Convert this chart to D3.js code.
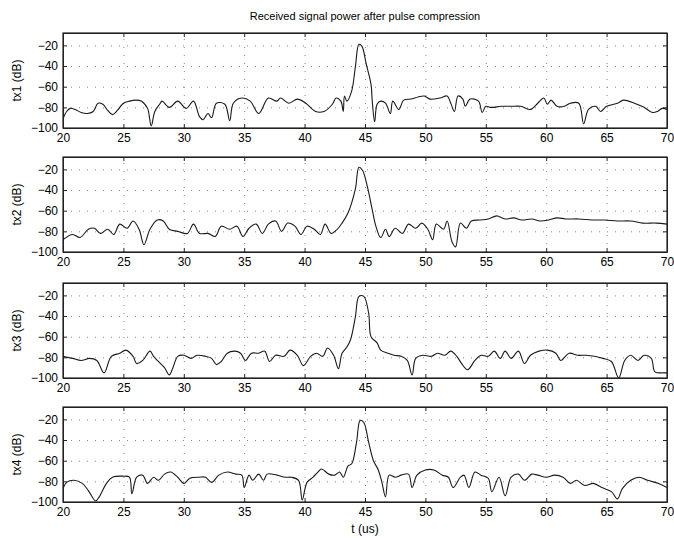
<!DOCTYPE html>
<html>
<head>
<meta charset="utf-8">
<script src="https://cdn.jsdelivr.net/npm/d3@7"></script>
<style>
  body { margin: 0; background: #fff; }
  text { font-family: "Liberation Sans", Arial, sans-serif; fill: #000; }
</style>
</head>
<body>
<svg id="fig" width="674" height="538"></svg>
<script>
var titre = "Received signal power after pulse compression";
var labels = ["tx1 (dB)", "tx2 (dB)", "tx3 (dB)", "tx4 (dB)"];
var xTicks = [20, 25, 30, 35, 40, 45, 50, 55, 60, 65, 70];
var yTicks = [-20, -40, -60, -80, -100];

// [t (us), power (dB)]
var tx1 = [[20,-91],[20.3,-84],[20.6,-81],[21,-82],[21.5,-85],[22,-86],[22.5,-84],[22.9,-76],[23.3,-77],[23.7,-83],[24.1,-87],[24.5,-83],[25,-76],[25.5,-74],[26,-73],[26.5,-74],[27,-81],[27.3,-98],[27.6,-84],[28,-77],[28.2,-74],[28.8,-80],[29.5,-74],[30.2,-81],[30.8,-74],[31.3,-89],[31.6,-92],[32,-86],[32.3,-90],[32.7,-76],[33.4,-77],[33.8,-93],[34.1,-76],[34.8,-71],[35.5,-74],[36.2,-86],[37,-71],[37.7,-74],[38,-71],[38.7,-76],[39.4,-72],[40.1,-76],[40.9,-84],[41.6,-84],[42.3,-77],[42.6,-71],[43,-74],[43.2,-84],[43.3,-69],[43.5,-74],[43.9,-64],[44.2,-41],[44.5,-19],[44.75,-21],[45.1,-38],[45.5,-58],[45.6,-74],[45.8,-94],[46,-77],[46.3,-74],[46.7,-76],[47.1,-86],[47.3,-74],[47.8,-82],[48.2,-73],[48.8,-72],[49.4,-70],[49.9,-69],[50.4,-72],[51.2,-71],[51.8,-69],[52.1,-76],[52.4,-84],[52.7,-69],[53.1,-72],[53.3,-79],[53.7,-72],[54.4,-74],[54.7,-85],[55,-79],[55.4,-80],[56.3,-79],[57.1,-79],[57.9,-79],[58.7,-82],[59.3,-76],[59.8,-71],[60.1,-77],[60.4,-73],[60.9,-79],[61.5,-79],[62,-76],[62.7,-76],[63.1,-96],[63.5,-82],[64.1,-79],[64.5,-84],[65,-79],[65.9,-76],[66.4,-73],[67.3,-76],[68.1,-80],[68.8,-85],[69.2,-84],[69.6,-81],[70,-82]];
var tx2 = [[20,-88],[20.8,-83],[21.4,-86],[22.1,-78],[22.6,-77],[23.1,-82],[23.7,-78],[24.2,-83],[24.7,-73],[25.3,-77],[25.8,-70],[26.3,-78],[26.7,-93],[27.2,-78],[27.8,-69],[28.3,-70],[28.8,-78],[29.5,-80],[30.3,-82],[30.8,-73],[31.3,-82],[32,-82],[32.6,-85],[33.1,-75],[33.8,-78],[34.4,-75],[34.9,-85],[35.4,-77],[36,-73],[36.5,-82],[37,-73],[37.6,-70],[38.1,-80],[38.6,-72],[39.2,-75],[39.7,-83],[40.2,-75],[40.8,-78],[41.3,-83],[41.7,-73],[42.2,-82],[42.7,-78],[43.1,-72],[43.6,-62],[44.2,-39],[44.5,-18],[44.8,-21],[45.2,-37],[45.6,-59],[45.9,-75],[46.3,-86],[46.7,-78],[47,-85],[47.5,-77],[48.1,-82],[48.6,-73],[49.2,-77],[49.7,-72],[50.2,-78],[50.6,-88],[50.9,-73],[51.5,-78],[51.8,-70],[52.2,-90],[52.5,-95],[52.9,-72],[53.4,-77],[53.8,-70],[54.5,-69],[55.2,-68],[55.9,-65],[56.6,-68],[57.3,-67],[58,-69],[58.8,-68],[59.5,-70],[60.2,-69],[60.9,-67],[61.6,-68],[62.7,-68],[63.8,-69],[64.8,-69],[65.9,-70],[67,-70],[68,-72],[69.1,-72],[70,-73]];
var tx3 = [[20,-79],[20.8,-81],[21.5,-83],[22.2,-81],[22.8,-83],[23.4,-95],[24,-79],[24.7,-76],[25.2,-73],[25.8,-79],[26.1,-86],[26.6,-83],[27.2,-74],[27.5,-79],[27.9,-84],[28.4,-90],[28.8,-97],[29.1,-90],[29.5,-79],[30,-78],[30.6,-81],[31.1,-78],[31.8,-79],[32.3,-81],[32.7,-87],[33.1,-84],[33.6,-76],[34.2,-74],[34.7,-76],[35.1,-83],[35.6,-76],[36.2,-76],[36.7,-74],[37.1,-84],[37.6,-78],[38.3,-79],[38.8,-73],[39.4,-78],[39.9,-88],[40.5,-79],[41,-76],[41.5,-79],[41.9,-71],[42.4,-78],[42.8,-91],[43.1,-76],[43.5,-70],[43.8,-63],[44.2,-41],[44.5,-21],[44.9,-21],[45.3,-37],[45.5,-60],[46,-66],[46.3,-73],[46.9,-76],[47.4,-78],[48,-79],[48.5,-83],[48.9,-97],[49.2,-81],[49.8,-78],[50.5,-79],[51,-76],[51.6,-78],[52.1,-74],[52.6,-79],[53,-86],[53.5,-92],[54.1,-83],[54.6,-78],[55.2,-79],[55.7,-74],[56.2,-81],[56.6,-74],[57.1,-81],[57.7,-74],[58.2,-86],[58.7,-78],[59.4,-74],[60.1,-73],[60.8,-76],[61.2,-83],[61.9,-76],[62.6,-78],[63.3,-78],[64,-79],[64.7,-81],[65.4,-84],[66,-100],[66.5,-83],[67,-78],[67.6,-83],[68.1,-78],[68.7,-81],[69,-94],[69.7,-95],[70,-95]];
var tx4 = [[20,-87],[20.3,-81],[20.9,-79],[21.6,-82],[22.1,-89],[22.7,-99],[23,-95],[23.6,-82],[24.1,-76],[25,-75],[25.5,-76],[25.7,-92],[26.1,-76],[26.6,-74],[27,-82],[27.5,-76],[27.9,-79],[28.4,-73],[28.9,-71],[29.5,-76],[30,-82],[30.5,-77],[31.3,-76],[31.8,-76],[32.3,-81],[32.9,-74],[33.6,-71],[34.3,-73],[34.8,-74],[35,-86],[35.4,-74],[35.7,-79],[36.2,-73],[36.6,-79],[36.9,-73],[37.7,-74],[38.4,-76],[38.9,-76],[39.5,-79],[39.8,-98],[40.2,-81],[40.7,-76],[41.1,-71],[41.4,-68],[42,-73],[42.5,-74],[42.9,-71],[43.2,-76],[43.6,-65],[43.9,-63],[44.3,-42],[44.6,-21],[44.9,-23],[45.3,-42],[45.7,-60],[46.1,-69],[46.4,-81],[46.7,-95],[47,-74],[47.5,-76],[48,-74],[48.6,-73],[48.9,-86],[49.3,-74],[50,-69],[50.7,-69],[51.4,-74],[51.9,-76],[52.3,-86],[52.9,-76],[53.2,-74],[53.6,-86],[54.1,-71],[54.6,-74],[55.2,-77],[55.5,-90],[56.1,-76],[56.6,-94],[57.1,-76],[57.7,-73],[58.2,-79],[58.8,-73],[59.3,-74],[60,-76],[60.7,-74],[61.4,-76],[62,-82],[62.5,-79],[63.2,-84],[63.9,-82],[64.6,-86],[65.4,-90],[65.9,-97],[66.3,-87],[67,-79],[67.7,-76],[68.4,-79],[69.3,-82],[70,-86]];

var series = [tx1, tx2, tx3, tx4];

var svg = d3.select("#fig");
var gauche = 63, droite = 667;
var hauts = [33, 157, 283, 407];
var hauteur = 95;

var xScale = d3.scaleLinear().domain([20, 70]).range([gauche, droite]);

svg.append("text")
    .attr("x", (gauche + droite) / 2)
    .attr("y", 20)
    .attr("text-anchor", "middle")
    .style("font-size", "11px")
    .text(titre);

series.forEach(function(data, i) {
    var haut = hauts[i];
    var yScale = d3.scaleLinear().domain([-100, -8]).range([haut + hauteur, haut]);
    var g = svg.append("g");

    svg.append("clipPath").attr("id", "clip" + i)
        .append("rect")
        .attr("x", gauche).attr("y", haut)
        .attr("width", droite - gauche).attr("height", hauteur);

    // grille pointillée
    g.append("g")
        .attr("transform", `translate(0,${haut + hauteur})`)
        .call(d3.axisBottom(xScale).tickValues(xTicks.slice(1, -1)).tickSize(-hauteur).tickFormat(""))
        .call(a => a.select(".domain").remove())
        .selectAll("line").attr("stroke", "#888").attr("stroke-dasharray", "1,7");
    g.append("g")
        .attr("transform", `translate(${gauche},0)`)
        .call(d3.axisLeft(yScale).tickValues(yTicks.slice(0, -1)).tickSize(-(droite - gauche)).tickFormat(""))
        .call(a => a.select(".domain").remove())
        .selectAll("line").attr("stroke", "#888").attr("stroke-dasharray", "1,7");

    // axes
    g.append("g")
        .attr("transform", `translate(0,${haut + hauteur})`)
        .call(d3.axisBottom(xScale).tickValues(xTicks).tickSize(-4).tickPadding(5).tickSizeOuter(0))
        .call(a => a.selectAll("text").style("font-size", "12px").attr("fill", "#000"));
    g.append("g")
        .attr("transform", `translate(0,${haut})`)
        .call(d3.axisTop(xScale).tickValues(xTicks).tickSize(-4).tickFormat("").tickSizeOuter(0));
    g.append("g")
        .attr("transform", `translate(${gauche},0)`)
        .call(d3.axisLeft(yScale).tickValues(yTicks).tickSize(-4).tickPadding(5).tickSizeOuter(0))
        .call(a => a.selectAll("text").style("font-size", "12px").attr("fill", "#000"));
    g.append("g")
        .attr("transform", `translate(${droite},0)`)
        .call(d3.axisRight(yScale).tickValues(yTicks).tickSize(-4).tickFormat("").tickSizeOuter(0));
    g.selectAll(".domain").attr("stroke", "#222");
    g.selectAll(".tick line").filter(function() { return !this.getAttribute("stroke-dasharray"); }).attr("stroke", "#222");

    g.append("rect")
        .attr("x", gauche).attr("y", haut)
        .attr("width", droite - gauche).attr("height", hauteur)
        .attr("fill", "none").attr("stroke", "#222").attr("stroke-width", 1.2);

    g.append("path")
        .datum(data)
        .attr("clip-path", `url(#clip${i})`)
        .attr("fill", "none")
        .attr("stroke", "#1a1a1a")
        .attr("stroke-width", 1.1)
        .attr("d", d3.line().curve(d3.curveCatmullRom.alpha(0.5)).x(d => xScale(d[0])).y(d => yScale(d[1])));

    svg.append("text")
        .attr("transform", `translate(21,${haut + hauteur / 2}) rotate(-90)`)
        .attr("text-anchor", "middle")
        .style("font-size", "12px")
        .text(labels[i]);
});

svg.append("text")
    .attr("x", (gauche + droite) / 2)
    .attr("y", 533)
    .attr("text-anchor", "middle")
    .style("font-size", "12px")
    .text("t (us)");
</script>
</body>
</html>
